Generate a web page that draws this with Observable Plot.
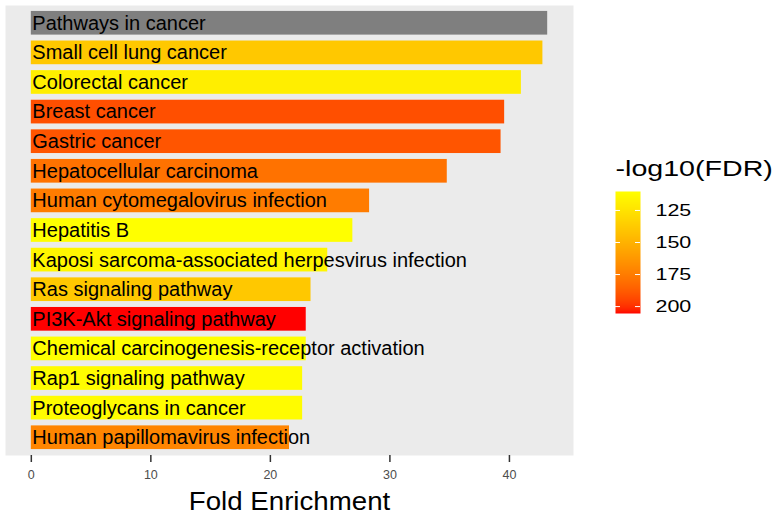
<!DOCTYPE html>
<html>
<head>
<meta charset="utf-8">
<script src="https://cdn.jsdelivr.net/npm/d3@7"></script>
<script src="https://cdn.jsdelivr.net/npm/@observablehq/plot@0.6"></script>
<style>
  html, body { margin: 0; padding: 0; background: #ffffff; }
  #wrap { position: relative; width: 773px; height: 520px; overflow: hidden; background: #ffffff; }
  #main { position: absolute; left: 0; top: 0; }
  #legend { position: absolute; left: 600px; top: 130px; }
</style>
</head>
<body>
<div id="wrap"><div id="main"></div><div id="legend"></div></div>
<script>
// ---- data ----
const terms = [
  "Pathways in cancer",
  "Small cell lung cancer",
  "Colorectal cancer",
  "Breast cancer",
  "Gastric cancer",
  "Hepatocellular carcinoma",
  "Human cytomegalovirus infection",
  "Hepatitis B",
  "Kaposi sarcoma-associated herpesvirus infection",
  "Ras signaling pathway",
  "PI3K-Akt signaling pathway",
  "Chemical carcinogenesis-receptor activation",
  "Rap1 signaling pathway",
  "Proteoglycans in cancer",
  "Human papillomavirus infection"
];
const foldEnrichment = [43.2, 42.8, 41.0, 39.6, 39.3, 34.8, 28.3, 26.9, 24.8, 23.4, 23.0, 23.0, 22.7, 22.7, 21.6];
// -log10(FDR); null = not finite (drawn in grey as NA)
const negLog10FDR = [null, 139, 119, 192, 190, 179, 175, 110.2, 115, 139, 205.4, 110.2, 112, 112, 171];
const xTicks = [0, 10, 20, 30, 40];
const legendTicks = [125, 150, 175, 200];
const xTitle = "Fold Enrichment";
const legendTitle = "-log10(FDR)";

const data = terms.map((t, i) => ({term: t, fe: foldEnrichment[i], v: negLog10FDR[i]}));
const known = data.filter(d => d.v != null);
const missing = data.filter(d => d.v == null);
const vMin = d3.min(known, d => d.v), vMax = d3.max(known, d => d.v);
const feMax = d3.max(data, d => d.fe);

const FONT = "'Liberation Sans', Arial, Helvetica, sans-serif";
const colorScale = {type: "linear", domain: [vMin, vMax], range: ["yellow", "red"], interpolate: d3.interpolateLab};

// widen text glyphs (reference text is slightly stretched) without moving anchors
function stretchTexts(svg, selector, sx) {
  svg.querySelectorAll(selector).forEach(t => {
    const L = t.getComputedTextLength();
    if (L > 0) {
      t.setAttribute("textLength", (L * sx).toFixed(2));
      t.setAttribute("lengthAdjust", "spacingAndGlyphs");
    }
  });
}

const main = Plot.plot({
  width: 773,
  height: 520,
  marginLeft: 5,
  marginRight: 200,
  marginTop: 5,
  marginBottom: 65,
  style: {fontFamily: FONT, background: "white"},
  x: {domain: [-0.05 * feMax, 1.05 * feMax]},
  y: {domain: terms, paddingInner: 0.2, paddingOuter: 0.2, round: false, axis: null},
  color: colorScale,
  marks: [
    Plot.frame({fill: "#EBEBEB", stroke: null}),
    Plot.barX(known, {x: "fe", y: "term", fill: "v"}),
    Plot.barX(missing, {x: "fe", y: "term", fill: "#7F7F7F"}),
    Plot.text(data, {x: 0, y: "term", text: "term", textAnchor: "start", fontSize: 20, fill: "black", dx: 1}),
    Plot.axisX({ticks: xTicks, tickSize: 7, tickPadding: 8, fontSize: 12.5, stroke: "#333333", fill: "#4D4D4D", strokeWidth: 1.5, label: null}),
    Plot.text([xTitle], {frameAnchor: "bottom", lineAnchor: "top", dy: 36.5, fontSize: 25.5, fill: "black", className: "xtitle"})
  ]
});
document.getElementById("main").appendChild(main);
stretchTexts(main, ".xtitle text", 1.085);

const legend = Plot.plot({
  width: 173,
  height: 200,
  marginLeft: 15,
  marginRight: 133,
  marginTop: 61,
  marginBottom: 17,
  style: {fontFamily: FONT, background: "transparent", overflow: "visible"},
  x: {domain: [0, 1], axis: null},
  y: {domain: [vMin, vMax], range: [61, 183], axis: null},
  color: colorScale,
  marks: [
    Plot.raster({x1: 0, x2: 1, y1: vMin, y2: vMax, width: 1, height: 122, fill: (x, y) => y, imageRendering: "auto"}),
    Plot.ruleY(legendTicks, {x1: 0, x2: 0.2, stroke: "white", strokeWidth: 1}),
    Plot.ruleY(legendTicks, {x1: 0.8, x2: 1, stroke: "white", strokeWidth: 1}),
    Plot.text(legendTicks, {x: 1, y: d => d, text: d => String(d), textAnchor: "start", dx: 15, fontSize: 16.5, fill: "black", className: "ltick"}),
    Plot.text([legendTitle], {frameAnchor: "top-left", textAnchor: "start", lineAnchor: "top", dy: -31, dx: 0, fontSize: 22, fill: "black", className: "ltitle"})
  ]
});
document.getElementById("legend").appendChild(legend);
stretchTexts(legend, ".ltick text, .ltitle text", 1.3);
</script>
</body>
</html>
